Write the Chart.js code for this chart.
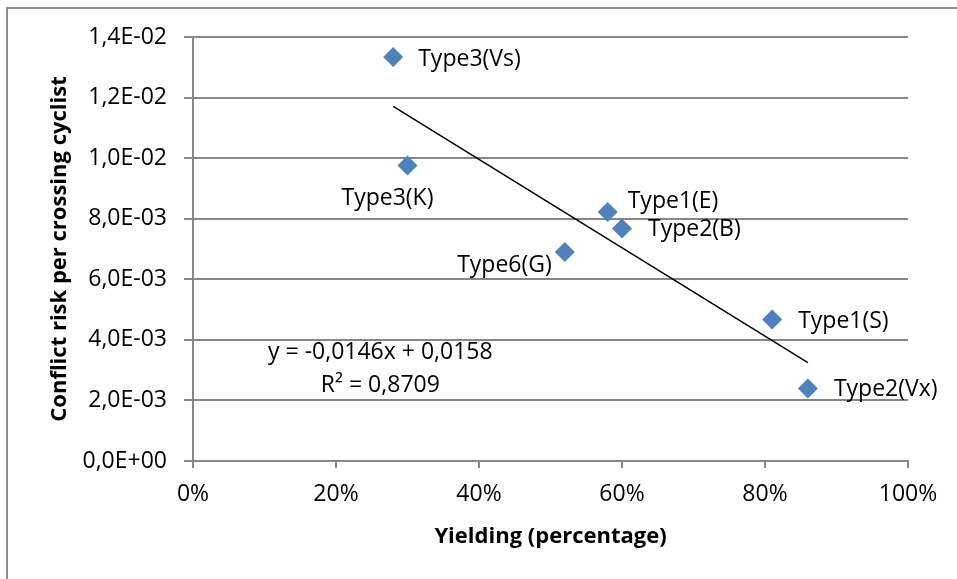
<!DOCTYPE html>
<html lang="en">
<head>
<meta charset="UTF-8">
<title>Conflict risk vs yielding</title>
<script src="https://cdn.jsdelivr.net/npm/chart.js"></script>
<style>
  html, body { margin: 0; padding: 0; background: #fff; }
  #wrap { width: 957px; height: 579px; }
</style>
</head>
<body>
<div id="wrap"><canvas id="riskChart"></canvas></div>
<script>
// data
var sites = ['Type3(Vs)', 'Type3(K)', 'Type1(E)', 'Type2(B)', 'Type6(G)', 'Type1(S)', 'Type2(Vx)'];
var yielding = [0.28, 0.30, 0.58, 0.60, 0.52, 0.81, 0.86];
var conflictRisk = [0.01334, 0.00976, 0.00822, 0.00768, 0.00690, 0.00467, 0.00239];
var trendX = [0.28, 0.86];
var trendY = [0.01171, 0.00325];
var equationText = ['y = -0,0146x + 0,0158', 'R\u00b2 = 0,8709'];
var yTickLabels = ['0,0E+00', '2,0E-03', '4,0E-03', '6,0E-03', '8,0E-03', '1,0E-02', '1,2E-02', '1,4E-02'];
var xTickLabels = ['0%', '20%', '40%', '60%', '80%', '100%'];

// where each point label sits relative to its marker
var labelPos = [
    { dx: 25, dy: 2, align: 'left' },
    { dx: -20, dy: 33, align: 'center' },
    { dx: 20, dy: -11, align: 'left' },
    { dx: 26, dy: 1, align: 'left' },
    { dx: -13, dy: 13, align: 'right' },
    { dx: 26, dy: 2, align: 'left' },
    { dx: 26, dy: 1, align: 'left' }
];

var FONT = '"Open Sans", "Noto Sans", sans-serif';
var gridGrey = '#878787';

var points = yielding.map(function (x, i) { return { x: x, y: conflictRisk[i] }; });
var trend = trendX.map(function (x, i) { return { x: x, y: trendY[i] }; });

var frame = {
    id: 'frame',
    beforeDraw: function (chart) {
        var ctx = chart.ctx;
        ctx.save();
        ctx.fillStyle = '#fff';
        ctx.fillRect(0, 0, chart.width, chart.height);
        ctx.strokeStyle = '#8e8e8e';
        ctx.lineWidth = 2;
        ctx.beginPath();
        ctx.moveTo(7, chart.height);
        ctx.lineTo(7, 8);
        ctx.lineTo(chart.width, 8);
        ctx.stroke();
        ctx.restore();
    }
};

var labels = {
    id: 'labels',
    afterDatasetsDraw: function (chart) {
        var ctx = chart.ctx;
        var meta = chart.getDatasetMeta(0);
        ctx.save();
        ctx.font = '23px ' + FONT;
        ctx.fillStyle = '#000';
        ctx.textBaseline = 'middle';
        meta.data.forEach(function (pt, i) {
            var p = labelPos[i];
            ctx.textAlign = p.align;
            ctx.fillText(sites[i], pt.x + p.dx, pt.y + p.dy);
        });
        // trendline equation
        var xs = chart.scales.x, ys = chart.scales.y;
        ctx.textAlign = 'center';
        ctx.fillText(equationText[0], xs.getPixelForValue(0.262), ys.getPixelForValue(0.00357));
        ctx.fillText(equationText[1], xs.getPixelForValue(0.262), ys.getPixelForValue(0.00251));
        ctx.restore();
    }
};

new Chart(document.getElementById('riskChart'), {
    type: 'scatter',
    data: {
        datasets: [{
            label: 'Conflict risk',
            data: points,
            pointStyle: 'rectRot',
            pointRadius: 10,
            pointHoverRadius: 10,
            backgroundColor: '#4f81bd',
            borderColor: '#4f81bd',
            borderWidth: 0
        }, {
            type: 'line',
            label: 'Linear trend',
            data: trend,
            borderColor: '#000',
            borderWidth: 1.5,
            pointRadius: 0,
            fill: false
        }]
    },
    plugins: [frame, labels],
    options: {
        responsive: true,
        maintainAspectRatio: false,
        animation: false,
        layout: { padding: { left: 0, top: 37, right: 49, bottom: 0 } },
        plugins: {
            legend: { display: false },
            tooltip: { enabled: false }
        },
        scales: {
            x: {
                type: 'linear',
                min: 0,
                max: 1,
                afterFit: function (s) { s.height = 118; },
                ticks: {
                    stepSize: 0.2,
                    color: '#000',
                    padding: 13,
                    maxRotation: 0,
                    font: { family: FONT, size: 23 },
                    callback: function (v, i) { return xTickLabels[i]; }
                },
                grid: { drawOnChartArea: false, drawTicks: true, tickLength: 7, color: gridGrey, lineWidth: 2 },
                border: { display: true, color: gridGrey, width: 2 },
                title: {
                    display: true,
                    text: 'Yielding (percentage)',
                    color: '#000',
                    font: { family: FONT, size: 22, weight: 'bold' },
                    padding: { top: 0, bottom: 29 }
                }
            },
            y: {
                min: 0,
                max: 0.014,
                afterFit: function (s) { s.width = 193; },
                ticks: {
                    stepSize: 0.002,
                    color: '#000',
                    padding: 17,
                    font: { family: FONT, size: 23 },
                    callback: function (v, i) { return yTickLabels[i]; }
                },
                grid: { color: gridGrey, lineWidth: 2, tickLength: 9 },
                border: { display: true, color: gridGrey, width: 2 },
                title: {
                    display: true,
                    text: 'Conflict risk per crossing cyclist',
                    color: '#000',
                    font: { family: FONT, size: 22, weight: 'bold' },
                    padding: { top: 47, bottom: 0 }
                }
            }
        }
    }
});
</script>
</body>
</html>
